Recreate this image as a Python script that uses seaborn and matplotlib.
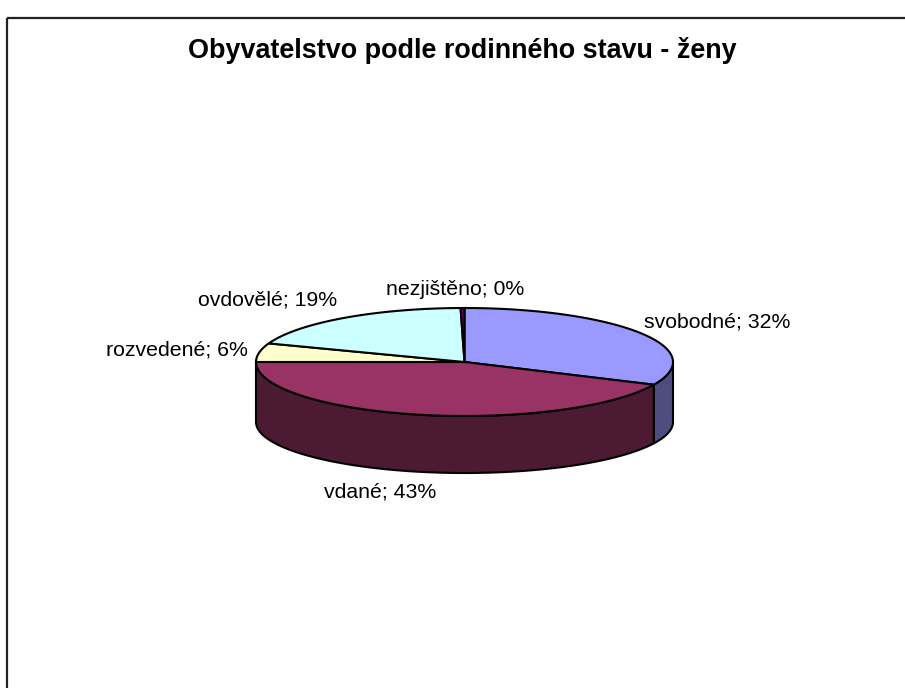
import numpy as np
import matplotlib
matplotlib.use("Agg")
import matplotlib.pyplot as plt
from matplotlib.patches import Polygon, Rectangle
import seaborn as sns

# ---- data ----
categories = ["svobodné", "vdané", "rozvedené", "ovdovělé", "nezjištěno"]
values = [31.9, 43.1, 5.6, 19.1, 0.3]
title = "Obyvatelstvo podle rodinného stavu - ženy"
top_colors = ["#9999FF", "#993366", "#FFFFCC", "#CCFFFF", "#660066"]

# ---- style ----
sns.set_theme(style="white")
plt.rcParams["font.family"] = ["Liberation Sans", "DejaVu Sans"]
palette = sns.color_palette(top_colors)
side_colors = [tuple(c * 0.5 for c in col) for col in palette]

W, H = 905, 688
fig = plt.figure(figsize=(W / 100, H / 100), dpi=100)
ax = fig.add_axes([0, 0, 1, 1])
ax.set_xlim(0, W)
ax.set_ylim(H, 0)
ax.axis("off")

# chart-area border (extends beyond the image at right/bottom)
ax.add_patch(Rectangle((7, 18), W + 50, H + 50, fill=False, edgecolor="#222222", lw=1.6))

ax.text(462.5, 58, title, ha="center", va="baseline", fontsize=19.4, fontweight="bold", color="black")

# ---- 3D pie geometry (layout) ----
cx, cy, rx, ry = 464.5, 362.0, 208.5, 54.0
depth, rxb, ryb = 60.0, 208.5, 51.0
lw = 1.5

def top_pt(t):
    r = np.radians(t)
    return cx + rx * np.sin(r), cy - ry * np.cos(r)

def bot_pt(t):
    r = np.radians(t)
    return cx + rxb * np.sin(r), cy + depth - ryb * np.cos(r)

total = sum(values)
angles = np.cumsum([0] + [v / total * 360 for v in values])

# sides (front half: 90..270 degrees)
for i in range(len(values)):
    a0, a1 = angles[i], angles[i + 1]
    lo, hi = max(a0, 90), min(a1, 270)
    if hi <= lo:
        continue
    ts = np.linspace(lo, hi, 200)
    pts = [top_pt(t) for t in ts] + [bot_pt(t) for t in ts[::-1]]
    ax.add_patch(Polygon(pts, closed=True, facecolor=side_colors[i], edgecolor="black", lw=lw, joinstyle="round"))

# tops
for i in range(len(values)):
    a0, a1 = angles[i], angles[i + 1]
    ts = np.linspace(a0, a1, max(int((a1 - a0) * 2), 4))
    pts = [(cx, cy)] + [top_pt(t) for t in ts]
    ax.add_patch(Polygon(pts, closed=True, facecolor=palette[i], edgecolor="black", lw=lw, joinstyle="round"))

# ---- labels ----
label_pos = [(717.5, 327, "center"), (380, 498, "center"), (248, 355, "right"),
             (267.5, 305, "center"), (455, 295, "center")]
for i, cat in enumerate(categories):
    x, y, ha = label_pos[i]
    pct = int(round(values[i] / total * 100))
    ax.text(x, y, f"{cat}; {pct}%", ha=ha, va="baseline", fontsize=15.3, color="black")

fig.savefig("out.png", dpi=100)
